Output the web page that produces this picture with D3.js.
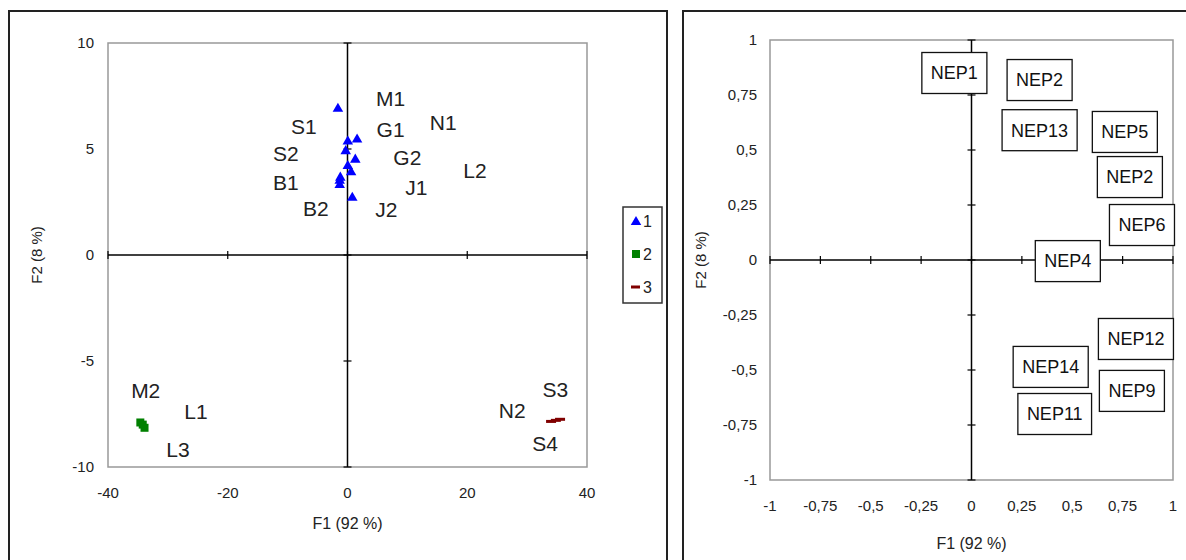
<!DOCTYPE html>
<html>
<head>
<meta charset="utf-8">
<script src="https://cdn.jsdelivr.net/npm/d3@7"></script>
<style>
  body { margin: 0; background: #fff; }
  svg { display: block; font-family: "Liberation Sans", Arial, sans-serif; }
</style>
</head>
<body>
<div id="chart"></div>
<script>

// --> DATA

// observations (left plot), one entry per group
var obsNames = [
    ["M1", "S1", "G1", "N1", "S2", "G2", "L2", "B1", "J1", "B2", "J2"],
    ["M2", "L1", "L3"],
    ["S3", "N2", "S4"]
];
var obsF1 = [
    [-1.6, 1.6, 0.05, -0.3, 1.3, 0.05, 0.6, -1.2, -1.3, -1.3, 0.8],
    [-34.6, -34.2, -33.9],
    [34.0, 34.8, 35.5]
];
var obsF2 = [
    [6.9, 5.45, 5.35, 4.9, 4.5, 4.2, 3.9, 3.65, 3.5, 3.3, 2.7],
    [-7.9, -8.0, -8.15],
    [-7.85, -7.8, -7.75]
];
// where the labels sit, in F1/F2 units
var obsLabelF1 = [
    [7.2, -7.3, 7.2, 16, -10.3, 10, 21.3, -10.3, 11.5, -5.3, 6.5],
    [-33.7, -25.3, -28.3],
    [34.7, 27.5, 33]
];
var obsLabelF2 = [
    [7.36, 6.04, 5.9, 6.23, 4.76, 4.58, 3.96, 3.4, 3.16, 2.17, 2.12],
    [-6.42, -7.4, -9.2],
    [-6.37, -7.36, -8.9]
];
var groups = ["1", "2", "3"];
var groupColors = ["#0000ff", "#008000", "#800000"];

var obsTicksX = [-40, -20, 0, 20, 40];
var obsTicksY = [-10, -5, 0, 5, 10];

// variables (right plot)
var varNames = ["NEP1", "NEP2", "NEP13", "NEP5", "NEP2", "NEP6", "NEP4",
    "NEP12", "NEP14", "NEP9", "NEP11"];
var varF1 = [-0.085, 0.338, 0.338, 0.761, 0.786, 0.846, 0.478, 0.816, 0.393, 0.796, 0.413];
var varF2 = [0.85, 0.818, 0.59, 0.582, 0.377, 0.159, -0.005, -0.359, -0.486, -0.595, -0.7];

var varTicks = [-1, -0.75, -0.5, -0.25, 0, 0.25, 0.5, 0.75, 1];

// --> SVG

var width = 1186,
    height = 560;

var svg = d3.select("#chart").append("svg")
    .attr("width", width)
    .attr("height", height);

// panel frames
svg.append("rect")
    .attr("x", 9).attr("y", 11)
    .attr("width", 658).attr("height", 560)
    .style("fill", "none").style("stroke", "#222").style("stroke-width", 2);
svg.append("rect")
    .attr("x", 683).attr("y", 11)
    .attr("width", 520).attr("height", 560)
    .style("fill", "none").style("stroke", "#222").style("stroke-width", 2);

function drawFrame(g, x, y, ticksX, ticksY, fmt, opts) {
    var x0 = x.range()[0], x1 = x.range()[1],
        y0 = y.range()[0], y1 = y.range()[1];

    g.append("rect")
        .attr("x", x0).attr("y", y1)
        .attr("width", x1 - x0).attr("height", y0 - y1)
        .style("fill", "none").style("stroke", "#999").style("stroke-width", 1.5);

    // zero axes
    g.append("line")
        .attr("x1", x0).attr("x2", x1)
        .attr("y1", y(0)).attr("y2", y(0))
        .style("stroke", "#000").style("stroke-width", 1.5);
    g.append("line")
        .attr("x1", x(0)).attr("x2", x(0))
        .attr("y1", y0).attr("y2", y1)
        .style("stroke", "#000").style("stroke-width", 1.5);

    g.selectAll(".tx").data(ticksX).enter().append("line")
        .attr("x1", function (d) { return x(d); })
        .attr("x2", function (d) { return x(d); })
        .attr("y1", y(0) - 4).attr("y2", y(0) + 4)
        .style("stroke", "#000").style("stroke-width", 1.2);
    g.selectAll(".ty").data(ticksY).enter().append("line")
        .attr("y1", function (d) { return y(d); })
        .attr("y2", function (d) { return y(d); })
        .attr("x1", x(0) - 4).attr("x2", x(0) + 4)
        .style("stroke", "#000").style("stroke-width", 1.2);

    // tick labels
    g.selectAll(".lx").data(ticksX).enter().append("text")
        .attr("x", function (d) { return x(d); })
        .attr("y", y0 + 26)
        .attr("text-anchor", "middle")
        .attr("dy", "0.35em")
        .style("font-size", "15px").style("fill", "#222")
        .text(fmt);
    g.selectAll(".ly").data(ticksY).enter().append("text")
        .attr("x", x0 - opts.yPad)
        .attr("y", function (d) { return y(d); })
        .attr("text-anchor", "end")
        .attr("dy", "0.35em")
        .style("font-size", "15px").style("fill", "#222")
        .text(fmt);

    g.append("text")
        .attr("x", x(0))
        .attr("y", y0 + opts.titleX)
        .attr("text-anchor", "middle")
        .attr("dy", "0.35em")
        .style("font-size", "16px").style("fill", "#222")
        .text("F1 (92 %)");
    g.append("text")
        .attr("transform", "translate(" + opts.titleYx + "," + y(0) + ") rotate(-90)")
        .attr("text-anchor", "middle")
        .attr("dy", "0.35em")
        .style("font-size", "15px").style("fill", "#222")
        .text("F2 (8 %)");
}

// --> LEFT: observations

var xObs = d3.scaleLinear().domain([-40, 40]).range([108, 587]);
var yObs = d3.scaleLinear().domain([-10, 10]).range([467, 43]);

var gObs = svg.append("g");
drawFrame(gObs, xObs, yObs, obsTicksX, obsTicksY, function (d) { return String(d); },
    { yPad: 14, titleX: 56, titleYx: 37 });

var triangle = d3.symbol().type(d3.symbolTriangle).size(48);

groups.forEach(function (grp, gi) {
    var pts = obsF1[gi].map(function (v, i) {
        return { f1: v, f2: obsF2[gi][i], name: obsNames[gi][i],
                 lf1: obsLabelF1[gi][i], lf2: obsLabelF2[gi][i] };
    });

    var marks = gObs.selectAll(".m" + gi).data(pts).enter();
    if (gi === 0) {
        marks.append("path")
            .attr("d", triangle)
            .attr("transform", function (d) {
                return "translate(" + xObs(d.f1) + "," + yObs(d.f2) + ")";
            })
            .style("fill", groupColors[gi]);
    } else if (gi === 1) {
        marks.append("rect")
            .attr("x", function (d) { return xObs(d.f1) - 4; })
            .attr("y", function (d) { return yObs(d.f2) - 4; })
            .attr("width", 8).attr("height", 8)
            .style("fill", groupColors[gi]);
    } else {
        marks.append("rect")
            .attr("x", function (d) { return xObs(d.f1) - 5; })
            .attr("y", function (d) { return yObs(d.f2) - 1.5; })
            .attr("width", 10).attr("height", 3)
            .style("fill", groupColors[gi]);
    }

    gObs.selectAll(".n" + gi).data(pts).enter().append("text")
        .attr("x", function (d) { return xObs(d.lf1); })
        .attr("y", function (d) { return yObs(d.lf2); })
        .attr("text-anchor", "middle")
        .attr("dy", "0.35em")
        .style("font-size", "21px").style("fill", "#222")
        .text(function (d) { return d.name; });
});

// legend
var legend = svg.append("g");
legend.append("rect")
    .attr("x", 623).attr("y", 207)
    .attr("width", 39).attr("height", 96)
    .style("fill", "#fff").style("stroke", "#333").style("stroke-width", 1.5);

var legendY = d3.scalePoint().domain(groups).range([221, 287]);

groups.forEach(function (grp, gi) {
    var ly = legendY(grp);
    if (gi === 0) {
        legend.append("path")
            .attr("d", triangle)
            .attr("transform", "translate(636," + (ly + 1) + ")")
            .style("fill", groupColors[gi]);
    } else if (gi === 1) {
        legend.append("rect")
            .attr("x", 632).attr("y", ly - 4)
            .attr("width", 8).attr("height", 8)
            .style("fill", groupColors[gi]);
    } else {
        legend.append("rect")
            .attr("x", 631).attr("y", ly - 1.5)
            .attr("width", 9).attr("height", 3)
            .style("fill", groupColors[gi]);
    }
    legend.append("text")
        .attr("x", 643).attr("y", ly)
        .attr("dy", "0.35em")
        .style("font-size", "16px").style("fill", "#222")
        .text(grp);
});

// --> RIGHT: variables

var xVar = d3.scaleLinear().domain([-1, 1]).range([770, 1173]);
var yVar = d3.scaleLinear().domain([-1, 1]).range([480, 40]);

var gVar = svg.append("g");
drawFrame(gVar, xVar, yVar, varTicks, varTicks,
    function (d) { return String(d).replace(".", ","); },
    { yPad: 13, titleX: 63, titleYx: 701 });

var boxes = gVar.selectAll(".box")
    .data(varNames.map(function (n, i) { return { name: n, f1: varF1[i], f2: varF2[i] }; }))
    .enter().append("g")
    .attr("transform", function (d) {
        return "translate(" + xVar(d.f1) + "," + yVar(d.f2) + ")";
    });

boxes.append("text")
    .attr("text-anchor", "middle")
    .attr("dy", "0.35em")
    .style("font-size", "18px").style("fill", "#111")
    .text(function (d) { return d.name; })
    .each(function () {
        var bb = this.getBBox();
        d3.select(this.parentNode).insert("rect", "text")
            .attr("x", bb.x - 9).attr("y", -20.5)
            .attr("width", bb.width + 18).attr("height", 41)
            .style("fill", "#fff").style("stroke", "#111").style("stroke-width", 1.3);
    });

</script>
</body>
</html>
